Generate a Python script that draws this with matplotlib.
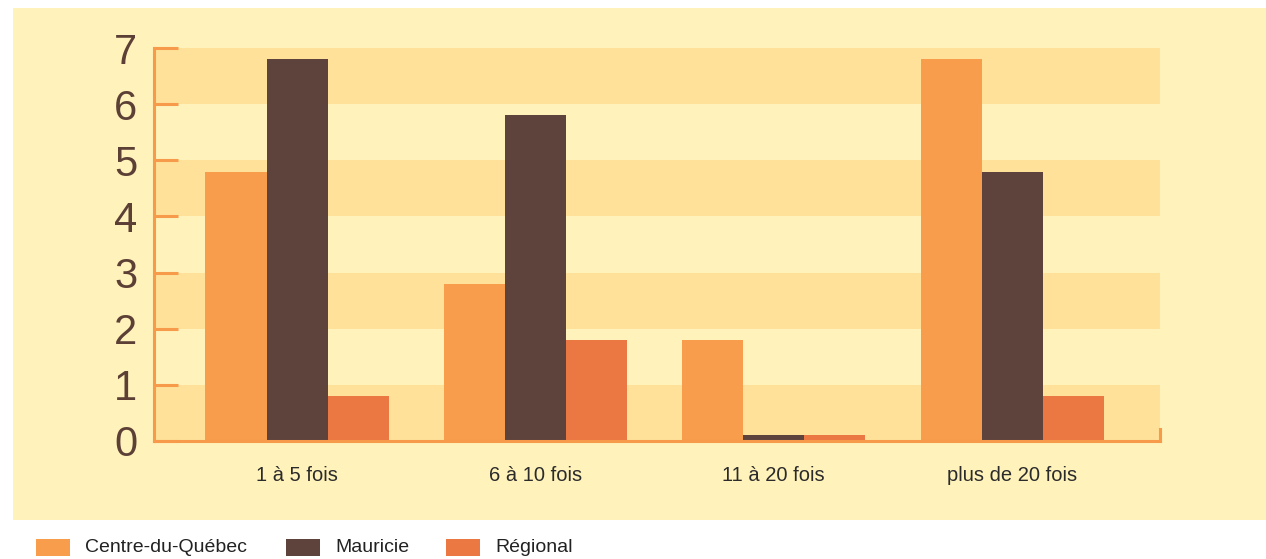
import numpy as np
import matplotlib.pyplot as plt
from matplotlib.patches import Rectangle

plt.rcParams['font.family'] = ['Liberation Sans Narrow', 'Liberation Sans', 'DejaVu Sans']

# data
categories = ['1 à 5 fois', '6 à 10 fois', '11 à 20 fois', 'plus de 20 fois']
series_names = ['Centre-du-Québec', 'Mauricie', 'Régional']
centre_du_quebec = [4.8, 2.8, 1.8, 6.8]
mauricie = [6.8, 5.8, 0.1, 4.8]
regional = [0.8, 1.8, 0.1, 0.8]
y_ticks = [0, 1, 2, 3, 4, 5, 6, 7]

colors = ['#F79D4B', '#5D433C', '#EB7842']
panel_bg = '#FFF2BB'
band_bg = '#FFE19A'
axis_col = '#F79A4A'
text_col = '#5C4036'

W, H = 1266, 559
fig = plt.figure(figsize=(W / 100, H / 100), dpi=100)
fig.patch.set_facecolor('white')

# light yellow panel behind the chart
fig.add_artist(Rectangle((13 / W, 1 - 520 / H), (W - 13) / W, (520 - 8) / H,
                         transform=fig.transFigure, facecolor=panel_bg,
                         edgecolor='none', zorder=0))

ax = fig.add_axes([154 / W, 1 - 441 / H, (1160 - 154) / W, (441 - 48) / H])
ax.set_facecolor(panel_bg)

# alternating horizontal bands
for lo in y_ticks[:-1:2]:
    ax.axhspan(lo, lo + 1, color=band_bg, lw=0, zorder=0)

x = np.arange(len(categories))
w = 0.256
for i, (vals, c) in enumerate(zip([centre_du_quebec, mauricie, regional], colors)):
    ax.bar(x + (i - 1) * w, vals, width=w, color=c, zorder=2, linewidth=0)

ax.set_xlim(-0.60, 3.62)
ax.set_ylim(0, 7)

for s in ['top', 'right']:
    ax.spines[s].set_visible(False)
for s in ['left', 'bottom']:
    ax.spines[s].set_color(axis_col)
    ax.spines[s].set_linewidth(2.2)
    ax.spines[s].set_zorder(3)

ax.set_yticks(y_ticks)
ax.tick_params(axis='y', direction='in', length=17, width=2.2, color=axis_col,
               labelsize=30, labelcolor=text_col, pad=12)
ax.set_xticks(x)
ax.set_xticklabels(categories)
ax.tick_params(axis='x', length=0, labelsize=14.5, labelcolor='#2B2B2B', pad=18)

# small tick closing the x axis on the right
ax.plot([1, 1], [0, 0.03], transform=ax.transAxes, color=axis_col, lw=2.2,
        clip_on=False, zorder=3)

# legend drawn along the bottom
leg_x = [36, 286, 446]
for lx, name, c in zip(leg_x, series_names, colors):
    fig.add_artist(Rectangle((lx / W, 1 - 556 / H), 34 / W, 17 / H,
                             transform=fig.transFigure, facecolor=c,
                             edgecolor='none'))
    fig.text((lx + 49) / W, 1 - 548 / H, name, fontsize=14, color='#222222',
             va='center', ha='left')

fig.savefig('out.png', dpi=100)
